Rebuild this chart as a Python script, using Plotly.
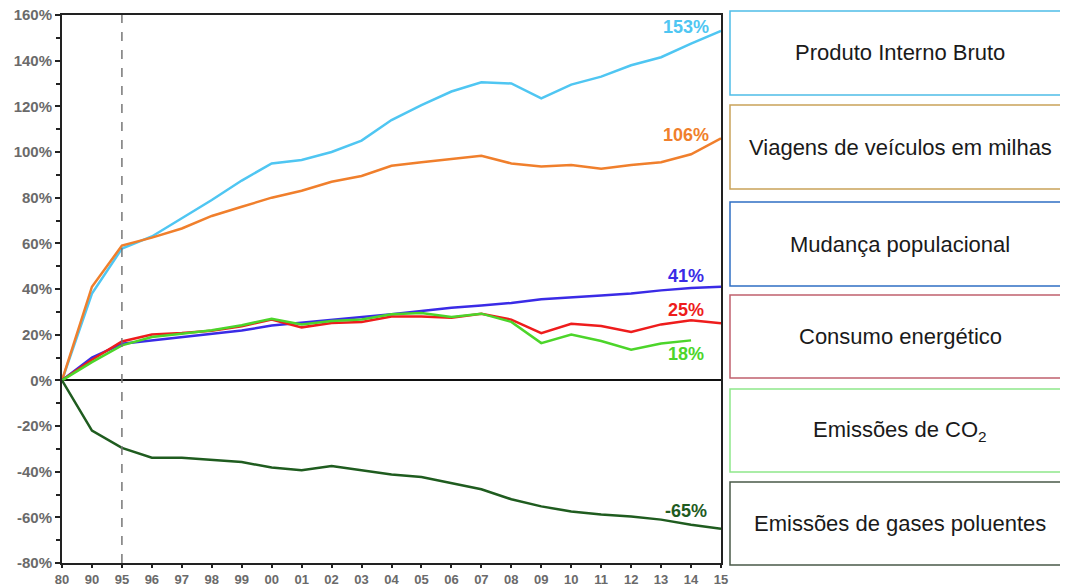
import plotly.graph_objects as go

years = ["80", "90", "95", "96", "97", "98", "99", "00", "01", "02", "03", "04",
         "05", "06", "07", "08", "09", "10", "11", "12", "13", "14", "15"]

gdp = [0, 38, 57.7, 63, 71, 79, 87.5, 95, 96.5, 100, 105, 114, 120.5, 126.5,
       130.5, 130, 123.5, 129.5, 133, 138, 141.5, 147.5, 153]
vmt = [0, 41, 59, 62.5, 66.5, 72, 76, 80, 83, 87, 89.5, 94, 95.5, 97, 98.3,
       95, 93.7, 94.3, 92.7, 94.3, 95.5, 99, 106]
population = [0, 10, 16, 17.5, 18.8, 20.3, 21.8, 24, 25.2, 26.4, 27.7, 28.9,
              30.4, 31.8, 32.8, 33.9, 35.5, 36.2, 37.2, 38, 39.4, 40.4, 41]
energy = [0, 9, 17, 20.1, 20.7, 21.7, 23.7, 26.6, 23.2, 25.1, 25.6, 28, 28,
          27.4, 29.2, 26.6, 20.7, 24.8, 23.8, 21.2, 24.5, 26.3, 25]
co2 = [0, 8, 15.3, 19, 20.4, 21.9, 24.1, 27, 24.5, 26, 26.6, 28.9, 29.5, 27.7,
       29.2, 25.6, 16.3, 20.1, 17.2, 13.4, 16.1, 17.5, None]
pollutants = [0, -22, -29.6, -33.9, -33.9, -34.8, -35.8, -38.2, -39.4, -37.5,
              -39.4, -41.2, -42.3, -45, -47.7, -52.1, -55.2, -57.4, -58.8,
              -59.6, -61, -63.2, -65]

y_tick_vals = [160, 140, 120, 100, 80, 60, 40, 20, 0, -20, -40, -60, -80]
y_tick_text = ["160%", "140%", "120%", "100%", "80%", "60%", "40%", "20%", "0%",
               "-20%", "-40%", "-60%", "-80%"]

series = [
    ("Produto Interno Bruto", gdp, "#4FC6F2"),
    ("Viagens de veículos em milhas", vmt, "#F07F2C"),
    ("Mudança populacional", population, "#3A2BE6"),
    ("Consumo energético", energy, "#EE1C1C"),
    ("Emissões de CO<sub>2</sub>", co2, "#4CD52A"),
    ("Emissões de gases poluentes", pollutants, "#1F5C1F"),
]

end_labels = ["153%", "106%", "41%", "25%", "18%", "-65%"]
end_label_y = [154.8, 107.6, 45.5, 31, 11.4, -57.2]

box_colors = ["#4FBDE8", "#C9A25A", "#2F6FC4", "#C0606E", "#8EE88A", "#4A5A48"]
# page pixel positions in the reference; the page body adds an 8px offset
OFF = 8
box_top_px = [11, 105, 202, 295, 389, 482]
box_bottom_px = [95, 189, 286, 378, 472, 565]

W, H = 1060, 579
L, R, T, B = 62 - OFF, 721 - OFF, 15 - OFF, 563 - OFF

fig = go.Figure()
for name, vals, color in series:
    fig.add_trace(go.Scatter(x=years, y=vals, mode="lines", name=name,
                             line=dict(color=color, width=2.5), showlegend=False))

for (name, vals, color), txt, yy in zip(series, end_labels, end_label_y):
    fig.add_annotation(x=20.83, y=yy, xref="x", yref="y", text="<b>%s</b>" % txt,
                       showarrow=False, font=dict(family="Arial", size=18, color=color))

# dashed line at 95
fig.add_shape(type="line", xref="x", yref="paper", x0=2, x1=2, y0=0, y1=1,
              line=dict(color="#777777", width=1.5, dash="dash"))


def px_x(p):
    return (p - OFF - L) / (R - L)


def px_y(p):
    return (B - (p - OFF)) / (B - T)


for (name, vals, color), bc, t, b in zip(series, box_colors, box_top_px, box_bottom_px):
    fig.add_shape(type="rect", xref="paper", yref="paper",
                  x0=px_x(730), x1=px_x(1085), y0=px_y(b), y1=px_y(t),
                  line=dict(color=bc, width=1.5), fillcolor="rgba(0,0,0,0)")
    fig.add_annotation(xref="paper", yref="paper", x=px_x(900), y=px_y((t + b) / 2),
                       text=name, showarrow=False, xanchor="center", yanchor="middle",
                       font=dict(family="Arial", size=22, color="#1a1a1a"))

fig.update_layout(
    width=W, height=H,
    margin=dict(l=L, r=W - R, t=T, b=H - B, pad=0, autoexpand=False),
    paper_bgcolor="white", plot_bgcolor="white",
    xaxis=dict(type="category", range=[0, 22], showgrid=False, zeroline=False,
               automargin=False, ticklabeloverflow="allow",
               showline=True, linecolor="#222222", linewidth=2, mirror=True,
               ticks="outside", ticklen=3, tickcolor="#222222", tickwidth=2,
               tickfont=dict(family="Arial", size=13, color="#6a6a6a", weight="bold")),
    yaxis=dict(range=[-80, 160], tickmode="array", tickvals=y_tick_vals,
               ticktext=y_tick_text, showgrid=False, automargin=False,
               ticklabeloverflow="allow",
               zeroline=True, zerolinecolor="#111111", zerolinewidth=2,
               showline=True, linecolor="#222222", linewidth=2, mirror=True,
               ticks="outside", ticklen=5, tickcolor="#222222", tickwidth=2,
               minor=dict(ticks="outside", dtick=10, tick0=0, ticklen=4,
                          tickcolor="#222222", tickwidth=2),
               tickfont=dict(family="Arial", size=15, color="#6a6a6a", weight="bold")),
)

fig.write_html("out.html")
